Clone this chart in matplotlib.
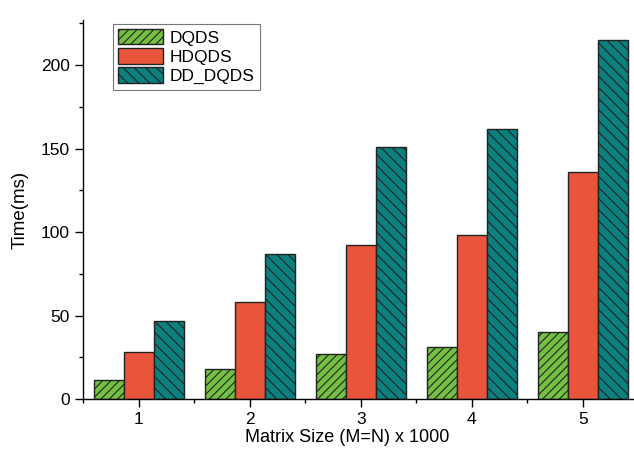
import numpy as np
import matplotlib.pyplot as plt
from matplotlib.ticker import MultipleLocator

plt.rcParams['font.family'] = ['Liberation Sans', 'DejaVu Sans']
plt.rcParams['hatch.linewidth'] = 0.8
plt.rcParams['hatch.color'] = '#1a1a1a'

sizes = [1, 2, 3, 4, 5]
dqds = [11.5, 18, 27, 31, 40]
hdqds = [28, 58, 92, 98.5, 136]
dd_dqds = [46.5, 87, 151, 161.5, 215]

x = np.array(sizes, dtype=float)
w = 0.27

fig = plt.figure(figsize=(6.34, 4.51), dpi=100)
ax = fig.add_axes([0.131, 0.115, 0.869, 0.841])

ax.bar(x - w, dqds, w, color='#74c043', edgecolor='#222222', linewidth=1.0,
       hatch='////', label='DQDS')
ax.bar(x, hdqds, w, color='#e9553a', edgecolor='#222222', linewidth=1.0,
       label='HDQDS')
ax.bar(x + w, dd_dqds, w, color='#0c7f7f', edgecolor='#222222', linewidth=1.0,
       hatch='\\\\\\', label='DD_DQDS')

ax.set_xlim(0.5, 5.46)
ax.set_ylim(0, 227)
ax.xaxis.set_major_locator(MultipleLocator(1))
ax.xaxis.set_minor_locator(MultipleLocator(0.5))
ax.yaxis.set_major_locator(MultipleLocator(50))
ax.yaxis.set_minor_locator(MultipleLocator(25))
ax.tick_params(which='major', direction='out', length=6, width=1, labelsize=12.5)
ax.tick_params(axis='x', which='major', pad=3)
ax.tick_params(which='minor', direction='out', length=3, width=1)

for side in ('top', 'right'):
    ax.spines[side].set_visible(False)
for side in ('left', 'bottom'):
    ax.spines[side].set_linewidth(1.0)

ax.set_xlabel('Matrix Size (M=N) x 1000', fontsize=13)
ax.set_ylabel('Time(ms)', fontsize=13.5)
ax.xaxis.set_label_coords(0.48, -0.08)
ax.yaxis.set_label_coords(-0.098, 0.5)

leg = ax.legend(loc='upper left', bbox_to_anchor=(0.054, 0.99), fontsize=12.5,
                frameon=True, fancybox=False, edgecolor='#555555',
                handlelength=2.6, handleheight=1.0, handletextpad=0.4,
                labelspacing=0.15, borderpad=0.3, borderaxespad=0)
leg.get_frame().set_linewidth(0.8)

fig.savefig('out.png', dpi=100)
